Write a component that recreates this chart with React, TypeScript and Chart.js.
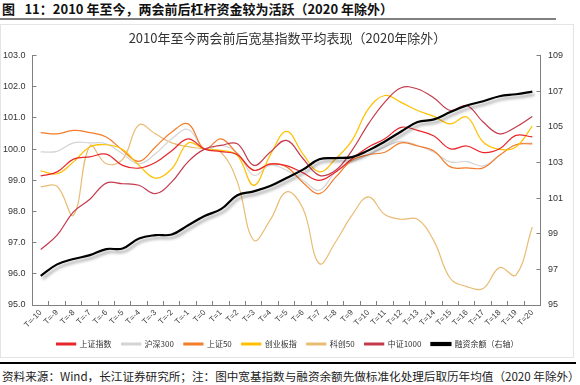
import React, { useEffect, useRef } from "react";
import { Chart, registerables } from "chart.js";

Chart.register(...registerables);

const categories = [
  "T=-10", "T=-9", "T=-8", "T=-7", "T=-6", "T=-5", "T=-4", "T=-3", "T=-2", "T=-1",
  "T=0", "T=1", "T=2", "T=3", "T=4", "T=5", "T=6", "T=7", "T=8", "T=9", "T=10",
  "T=11", "T=12", "T=13", "T=14", "T=15", "T=16", "T=17", "T=18", "T=19", "T=20",
];

const shIndex = [99.14, 99.27, 99.68, 99.75, 99.84, 99.48, 99.39, 99.57, 99.95, 100.33, 100.0, 99.92, 99.82, 99.32, 99.52, 99.47, 99.24, 99.0, 99.27, 99.69, 100.07, 100.33, 100.7, 100.6, 100.42, 100.01, 100.1, 99.89, 100.01, 100.44, 100.39];
const hs300 = [99.91, 99.93, 100.2, 100.2, 100.17, 99.85, 99.53, 99.85, 100.33, 100.63, 100.0, 100.12, 99.88, 99.16, 99.48, 99.32, 99.0, 98.68, 99.27, 99.59, 99.82, 100.07, 100.25, 100.12, 99.9, 99.59, 99.6, 99.46, 99.8, 100.14, 100.2];
const sz50 = [100.53, 100.49, 100.6, 100.53, 100.39, 99.96, 99.61, 100.07, 100.55, 100.81, 100.0, 100.33, 99.85, 99.32, 99.53, 99.43, 98.93, 98.57, 99.1, 99.64, 99.82, 99.9, 100.2, 100.1, 99.94, 99.43, 99.4, 99.4, 99.8, 100.14, 100.17];
const cyb = [99.3, 99.21, 99.59, 100.07, 100.14, 99.99, 99.48, 99.07, 99.37, 100.2, 100.0, 99.96, 99.8, 98.84, 99.8, 100.57, 99.85, 99.27, 99.69, 100.28, 101.29, 101.72, 101.5, 101.24, 101.05, 100.81, 101.03, 100.23, 99.99, 100.07, 100.74];
const kc50 = [98.79, 98.81, 97.88, 100.1, 99.53, 99.67, 100.78, 100.49, 100.2, 100.08, 100.0, 99.9, 98.95, 97.08, 97.72, 98.63, 98.1, 96.33, 97.03, 97.88, 98.47, 97.9, 97.75, 97.75, 97.05, 95.85, 95.59, 95.53, 96.2, 95.96, 97.5];
const zz1000 = [96.78, 97.24, 97.99, 98.39, 98.91, 98.89, 98.84, 98.57, 98.95, 99.6, 100.0, 100.12, 100.17, 99.48, 99.9, 100.28, 99.7, 99.16, 99.32, 99.96, 100.81, 101.51, 101.97, 101.93, 101.64, 101.24, 101.4, 100.87, 100.49, 100.71, 101.05];
const marginBal = [96.64, 97.28, 97.58, 97.8, 98.14, 98.17, 98.73, 98.92, 98.96, 99.48, 100.0, 100.38, 101.16, 101.38, 101.68, 102.13, 102.6, 103.18, 103.25, 103.3, 103.68, 104.18, 104.74, 105.27, 105.42, 105.83, 106.2, 106.44, 106.72, 106.83, 106.98];

const seriesNames = ["上证指数", "沪深300", "上证50", "创业板指", "科创50", "中证1000", "融资余额（右轴）"];

const leftMin = 95;
const leftMax = 103;
const rightMin = 95;
const rightMax = 109;

const FONT_LATIN = "'Liberation Sans', Arial, sans-serif";
const FONT_CJK = "'Noto Sans CJK SC', 'Liberation Sans', sans-serif";

const shadowPlugin = {
  id: "lineShadow",
  beforeDatasetDraw(chart: any, args: any) {
    const ds = chart.data.datasets[args.index];
    if (ds && ds.shadow) {
      const ctx = chart.ctx;
      ctx.save();
      ctx.shadowColor = "rgba(0,0,0,0.35)";
      ctx.shadowBlur = 3;
      ctx.shadowOffsetX = 2;
      ctx.shadowOffsetY = 3;
    }
  },
  afterDatasetDraw(chart: any, args: any) {
    const ds = chart.data.datasets[args.index];
    if (ds && ds.shadow) {
      chart.ctx.restore();
    }
  },
};

function ChartCanvas() {
  const ref = useRef<HTMLCanvasElement | null>(null);
  useEffect(() => {
    if (!ref.current) return;
    const mk = (label: string, data: number[], color: string, width: number, axis: string, order: number, shadow = false) => ({
      label,
      data,
      borderColor: color,
      backgroundColor: color,
      borderWidth: width,
      pointRadius: 0,
      tension: 0.4,
      yAxisID: axis,
      order,
      shadow,
    });
    const chart = new Chart(ref.current, {
      type: "line",
      data: {
        labels: categories,
        datasets: [
          mk(seriesNames[0], shIndex, "#E8262B", 1.2, "y", 3),
          mk(seriesNames[1], hs300, "#D4D4D4", 1.2, "y", 6),
          mk(seriesNames[2], sz50, "#F47C2C", 1.2, "y", 5),
          mk(seriesNames[3], cyb, "#FFC000", 1.2, "y", 4),
          mk(seriesNames[4], kc50, "#E9BC74", 1.2, "y", 7),
          mk(seriesNames[5], zz1000, "#C43A4C", 1.2, "y", 2),
          mk(seriesNames[6], marginBal, "#000000", 2.2, "y1", 1, true),
        ] as any,
      },
      options: {
        animation: false,
        responsive: false,
        devicePixelRatio: 1,
        layout: { padding: { left: 0, right: 0, top: 0, bottom: 0 } },
        plugins: {
          title: {
            display: true,
            text: "2010年至今两会前后宽基指数平均表现（2020年除外）",
            color: "#333333",
            font: { family: FONT_CJK, size: 13, weight: "normal" as any },
            padding: { top: 6, bottom: 10 },
          },
          legend: {
            display: true,
            position: "bottom",
            labels: {
              boxWidth: 19,
              boxHeight: 2,
              padding: 10,
              color: "#333333",
              font: { family: FONT_CJK, size: 8 },
              sort: (a: any, b: any) => a.datasetIndex - b.datasetIndex,
            },
          },
          tooltip: { enabled: false },
        },
        scales: {
          x: {
            type: "category",
            offset: true,
            grid: {
              display: true,
              drawOnChartArea: false,
              drawTicks: true,
              tickLength: -4,
              offset: true,
              color: "#808080",
            },
            border: { display: true, color: "#808080", width: 1 },
            ticks: {
              autoSkip: false,
              minRotation: 45,
              maxRotation: 45,
              padding: 7,
              color: "#404040",
              font: { family: FONT_LATIN, size: 8 },
            },
            afterFit: (s: any) => {
              s.height = 25;
            },
          },
          y: {
            type: "linear",
            position: "left",
            min: leftMin,
            max: leftMax,
            grid: {
              display: true,
              drawOnChartArea: false,
              drawTicks: true,
              tickLength: -4,
              color: "#808080",
            },
            border: { display: true, color: "#808080", width: 1 },
            ticks: {
              stepSize: 1,
              padding: 11,
              color: "#333333",
              font: { family: FONT_LATIN, size: 9 },
              callback: (v: any) => Number(v).toFixed(1),
            },
            afterFit: (s: any) => {
              s.width = 32.5;
            },
          },
          y1: {
            type: "linear",
            position: "right",
            min: rightMin,
            max: rightMax,
            grid: {
              display: true,
              drawOnChartArea: false,
              drawTicks: true,
              tickLength: -4,
              color: "#808080",
            },
            border: { display: true, color: "#808080", width: 1 },
            ticks: {
              stepSize: 2,
              padding: 11.5,
              color: "#333333",
              font: { family: FONT_LATIN, size: 9 },
            },
            afterFit: (s: any) => {
              s.width = 34.5;
            },
          },
        },
      } as any,
      plugins: [shadowPlugin],
    });
    return () => chart.destroy();
  }, []);
  return <canvas ref={ref} width={575} height={334} style={{ display: "block", width: 575, height: 334 }} />;
}

export default function App() {
  return (
    <div style={{ position: "absolute", left: 0, top: 0, width: 580, height: 385, background: "#fff", overflow: "hidden" }}>
      <div
        style={{
          position: "absolute",
          left: 2,
          top: 1,
          fontFamily: FONT_CJK,
          fontSize: 13,
          fontWeight: "bold",
          color: "#111",
          whiteSpace: "pre",
          lineHeight: "16px",
        }}
      >
        {"图\u2002 11：2010 年至今，两会前后杠杆资金较为活跃（2020 年除外）"}
      </div>
      <div style={{ position: "absolute", left: 0, top: 18, width: 556, height: 2, background: "#808080" }} />
      <div style={{ position: "absolute", left: 0, top: 24, width: 574, height: 334, border: "1px solid #e4e4e4", boxSizing: "border-box" }} />
      <div style={{ position: "absolute", left: 0, top: 24 }}>
        <ChartCanvas />
      </div>
      <div style={{ position: "absolute", left: 0, top: 362, width: 576, height: 1.5, background: "#000" }} />
      <div
        style={{
          position: "absolute",
          left: 2,
          top: 368,
          fontFamily: FONT_CJK,
          fontSize: 11.6,
          color: "#222",
          whiteSpace: "nowrap",
          lineHeight: "16px",
        }}
      >
        资料来源：Wind，长江证券研究所；注：图中宽基指数与融资余额先做标准化处理后取历年均值（2020 年除外）
      </div>
    </div>
  );
}
